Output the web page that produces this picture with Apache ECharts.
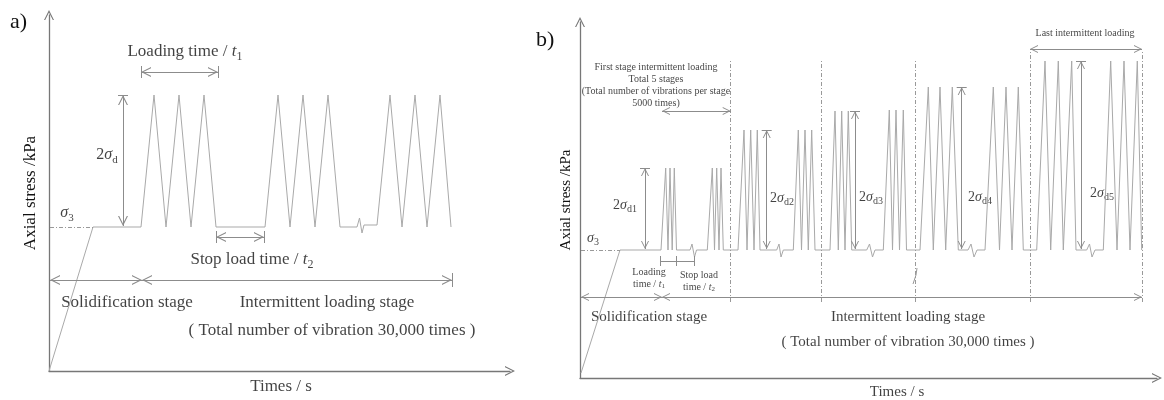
<!DOCTYPE html>
<html>
<head>
<meta charset="utf-8">
<script src="https://cdn.jsdelivr.net/npm/echarts@6/dist/echarts.min.js"></script>
<style>html,body{margin:0;padding:0;background:#fff}#main{width:1164px;height:400px}</style>
</head>
<body>
<div id="main"></div>
<script>
// schematic units: 1 unit ~ 1 px, origin at the axes corner of each panel

// panel a) waveform vertices [time, stress]
const waveA = [[0,0],[44,144],[92,144],[105,276],[117,144],[130,276],[142,144],[155,276],[167,144],
    [216,144],[229,276],[241,144],[254,276],[266,144],[279,276],[291,144],
    [308,144],[310.5,153],[313,138],[315,146],[328,146],
    [341,276],[353,144],[366,276],[378,144],[391,276],[402,144]];
const sigma3A = [[1,144],[44,144]];
// dimension lines [x1, y1, x2, y2, headAtStart, headAtEnd]
const dimsA = [[74,145,74,276,1,1],[69,276,79,276,0,0],
    [92,299,169,299,1,1],[92,293,92,305,0,0],[169,293,169,305,0,0],
    [167,134,215,134,1,1],[167,128,167,140,0,0],[215,128,215,140,0,0],
    [1,91,93,91,1,1],[93,91,403,91,1,1],[403,84,403,98,0,0]];
const labelsA = [
    [136,319,'{n|Loading time / }{i|t}{s|1}'],
    [58,216,'{n|2}{i|σ}{s|d}'],
    [18,158,'{i|σ}{s|3}'],
    [203,111,'{n|Stop load time / }{i|t}{s|2}'],
    [78,68,'{n|Solidification stage}'],
    [278,68,'{n|Intermittent loading stage}'],
    [283,40,'{n|( Total number of vibration 30,000 times )}'],
    [232,-16,'{n|Times / s}']
];
const sigmaLabelsA = [
    [58,216,'{n|2}{i|σ}{s|d}'],
    [18,158,'{i|σ}{s|3}']
];

// panel b) waveform vertices [time, stress]
const waveB = [[1,5],[40,128],[81,128],
    [85.7,210],[88,128],[90,210],[92.2,128],[94.3,210],[96.5,128],
    [110,128],[112,134],[114.5,121],[116.5,128],[127.3,128],
    [132.3,210],[134.5,128],[136.7,210],[139,128],[141,210],[143.3,128],
    [158,128],[164,248],[167,128],[170.7,248],[174,128],[177.3,248],[180,128],
    [196.7,128],[199,134],[201,121],[203.3,128],[213.3,128],
    [218.3,248],[221.5,128],[225,248],[228.3,128],[231.7,248],[235,128],
    [250,128],[255,267],[258.3,128],[261.7,267],[265,128],[268.3,267],[271.7,128],
    [286.7,128],[289.5,134],[292.5,121],[295,128],[303.3,128],
    [309.3,268],[312.5,128],[316,268],[319.5,128],[323.3,268],[326.5,128],
    [340,128],[348.3,291],[353.3,128],[360,291],[365.7,128],[372.3,291],[378.3,128],
    [388,128],[391,134],[394,121],[397,128],[405,128],
    [413.3,291],[419.5,128],[426,291],[432,128],[438.3,291],[443.3,128],
    [456.7,128],[465,317],[470.7,128],[478.3,317],[483.3,128],[491.7,317],[496,128],
    [506.7,128],[509.5,134],[512,121],[515,128],[523.3,128],
    [530.7,317],[537,128],[544,317],[550,128],[557.3,317],[561.7,128]];
const sigma3B = [[1,128],[40,128]];
const stageLinesB = [[150.7,76,150.7,318],[241,76,241,318],[335,76,335,318],[450,76,450,326],[562,76,562,326]];
const breakB = [[333,94],[336,103],[334,101],[337,110]];
const dimsB = [[65,129,65,210,1,1],[60,210,70,210,0,0],
    [186.7,129,186.7,248,1,1],[181.7,248,191.7,248,0,0],
    [275,129,275,267,1,1],[270,267,280,267,0,0],
    [381.7,129,381.7,291,1,1],[376.7,291,386.7,291,0,0],
    [501,129,501,317,1,1],[496,317,506,317,0,0],
    [82,267,150.7,267,1,1],
    [450,329,562,329,1,1],
    [1,81,82,81,1,1],[82,81,562,81,1,1],
    [80.7,117,114,117,0,0],[80.7,112,80.7,122,0,0],[96.7,112,96.7,122,0,0],[114,112,114,122,0,0]];
const labelsBBig = [
    [69,61,'{n|Solidification stage}'],
    [328,61,'{n|Intermittent loading stage}'],
    [328,36,'{n|( Total number of vibration 30,000 times )}'],
    [317,-14,'{n|Times / s}']
];
const labelsBSigma = [
    [13,140,'{i|σ}{s|3}'],
    [45,173,'{n|2}{i|σ}{s|d1}'],
    [202,180,'{n|2}{i|σ}{s|d2}'],
    [291,181,'{n|2}{i|σ}{s|d3}'],
    [400,181,'{n|2}{i|σ}{s|d4}'],
    [522,185,'{n|2}{i|σ}{s|d5}']
];
const labelsBSmall = [
    [76,293,'{n|First stage intermittent loading}\n{n|Total 5 stages}\n{n|(Total number of vibrations per stage}\n{n|5000 times)}'],
    [505,345,'{n|Last intermittent loading}'],
    [69,100,'{n|Loading}\n{n|time / }{i|t}{s|1}'],
    [119,97,'{n|Stop load}\n{n|time / }{i|t}{s|2}']
];

const SERIF = '"Liberation Serif", "Times New Roman", serif';
const TXT = '#111';
const WAVE = '#a9a9a9';
const DIM = '#8c8c8c';
const AXIS = '#777';
const CHEV = 'path://M50,0L100,100L88,100L50,24L12,100L0,100Z';

function richFor(size, lh) {
    return {
        n: {fontFamily: SERIF, fontSize: size, color: TXT, lineHeight: lh},
        i: {fontFamily: SERIF, fontSize: size, fontStyle: 'italic', color: TXT, lineHeight: lh},
        s: {fontFamily: SERIF, fontSize: Math.round(size * 0.68), color: TXT, lineHeight: lh, verticalAlign: 'bottom'}
    };
}

function poly(g, data, color, type) {
    return {
        type: 'line', xAxisIndex: g, yAxisIndex: g, data: data, symbol: 'none', silent: true,
        animation: false, lineStyle: {color: color, width: 1, type: type || 'solid'}
    };
}

function dims(g, list, size) {
    const off = [0, size / 2];
    return {
        type: 'line', xAxisIndex: g, yAxisIndex: g, data: [], silent: true, animation: false,
        markLine: {
            silent: true, animation: false, symbolSize: [size, size], symbolOffset: [off, off],
            label: {show: false},
            lineStyle: {color: DIM, width: 1, type: 'solid'},
            emphasis: {disabled: true},
            data: list.map(d => [
                {coord: [d[0], d[1]], symbol: d[4] ? CHEV : 'none'},
                {coord: [d[2], d[3]], symbol: d[5] ? CHEV : 'none'}
            ])
        }
    };
}

function dashes(g, list) {
    return {
        type: 'line', xAxisIndex: g, yAxisIndex: g, data: [], silent: true, animation: false,
        markLine: {
            silent: true, animation: false, symbol: ['none', 'none'],
            label: {show: false},
            lineStyle: {color: '#999', width: 1, type: [4, 2, 1, 2]},
            emphasis: {disabled: true},
            data: list.map(d => [{coord: [d[0], d[1]]}, {coord: [d[2], d[3]]}])
        }
    };
}

function labels(g, list, size, lh) {
    return {
        type: 'scatter', xAxisIndex: g, yAxisIndex: g, symbolSize: 0, clip: false, silent: true,
        animation: false,
        data: list.map(l => ({value: [l[0], l[1]], name: l[2]})),
        label: {show: true, position: 'inside', formatter: p => p.name, rich: richFor(size, lh)}
    };
}

function axes(max, nameSize, gap) {
    const line = {show: true, symbol: ['none', CHEV], symbolSize: [10, 10],
        lineStyle: {color: AXIS, width: 1.3}};
    return {
        x: {type: 'value', min: 0, max: max[0], axisLine: line, axisTick: {show: false},
            axisLabel: {show: false}, splitLine: {show: false}},
        y: {type: 'value', min: 0, max: max[1], axisLine: line, axisTick: {show: false},
            axisLabel: {show: false}, splitLine: {show: false},
            name: 'Axial stress /kPa', nameLocation: 'middle', nameGap: gap,
            nameTextStyle: {fontFamily: SERIF, fontSize: nameSize, color: TXT}}
    };
}

const axA = axes([461, 356], 17, 10);
const axB = axes([577, 356], 15, 6);

const chart = echarts.init(document.getElementById('main'));
chart.setOption({
    animation: false,
    backgroundColor: '#fff',
    title: [
        {text: 'a)', left: 10, top: 11, padding: 0, textStyle: {fontFamily: SERIF, fontSize: 22, fontWeight: 'normal', color: TXT}},
        {text: 'b)', left: 536, top: 29, padding: 0, textStyle: {fontFamily: SERIF, fontSize: 22, fontWeight: 'normal', color: TXT}}
    ],
    grid: [
        {left: 49, top: 15, right: 654, bottom: 29},
        {left: 580, top: 22, right: 7, bottom: 22}
    ],
    xAxis: [Object.assign({gridIndex: 0}, axA.x), Object.assign({gridIndex: 1}, axB.x)],
    yAxis: [Object.assign({gridIndex: 0}, axA.y), Object.assign({gridIndex: 1}, axB.y)],
    series: [
        poly(0, waveA, WAVE),
        dashes(0, [[sigma3A[0][0], sigma3A[0][1], sigma3A[1][0], sigma3A[1][1]]]),
        dims(0, dimsA, 10),
        labels(0, labelsA.filter(l => l[2].indexOf('σ') < 0), 17, 22),
        labels(0, sigmaLabelsA, 16, 22),
        poly(1, waveB, WAVE),
        poly(1, breakB, '#999'),
        dashes(1, stageLinesB.concat([[sigma3B[0][0], sigma3B[0][1], sigma3B[1][0], sigma3B[1][1]]])),
        dims(1, dimsB, 8),
        labels(1, labelsBBig, 15, 20),
        labels(1, labelsBSigma, 14, 18),
        labels(1, labelsBSmall, 10, 12)
    ]
});
</script>
</body>
</html>
